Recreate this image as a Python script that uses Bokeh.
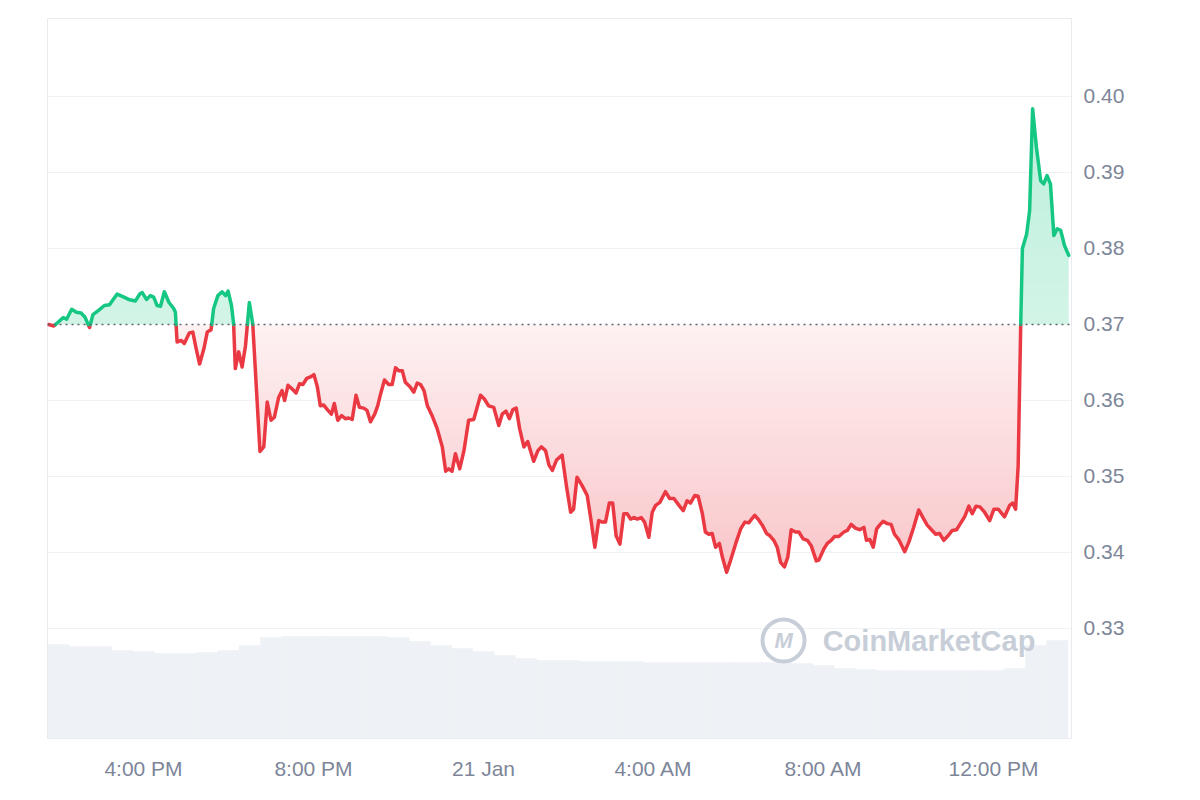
import numpy as np
from bokeh.plotting import figure
from bokeh.models import Range1d, FixedTicker, NumeralTickFormatter, Label, Span
from bokeh.embed import file_html
from bokeh.resources import INLINE

# ---------------- data ----------------
# hours since 20 Jan 00:00
hours = [13.77, 13.89, 13.97, 14.11, 14.19, 14.31, 14.42, 14.53, 14.62, 14.73,
         14.81, 14.95, 15.08, 15.20, 15.38, 15.54, 15.65, 15.81, 15.91, 15.97,
         16.07, 16.16, 16.24, 16.32, 16.40, 16.49, 16.60, 16.71, 16.75, 16.79,
         16.89, 16.96, 17.08, 17.16, 17.24, 17.32, 17.42, 17.50, 17.59, 17.65,
         17.75, 17.85, 17.93, 17.99, 18.07, 18.12, 18.16, 18.24, 18.32, 18.40,
         18.49, 18.57, 18.74, 18.83, 18.91, 19.00, 19.08, 19.18, 19.26, 19.32,
         19.40, 19.50, 19.59, 19.67, 19.75, 19.84, 19.93, 20.01, 20.09, 20.16,
         20.24, 20.34, 20.42, 20.49, 20.57, 20.66, 20.75, 20.83, 20.91, 21.00,
         21.08, 21.18, 21.26, 21.34, 21.44, 21.51, 21.58, 21.67, 21.77, 21.85,
         21.93, 22.01, 22.09, 22.16, 22.27, 22.36, 22.44, 22.52, 22.60, 22.68,
         22.79, 22.91, 23.03, 23.11, 23.18, 23.26, 23.34, 23.44, 23.54, 23.65,
         23.77, 23.93, 24.02, 24.12, 24.24, 24.36, 24.44, 24.53, 24.61, 24.69,
         24.77, 24.85, 24.95, 25.04, 25.18, 25.28, 25.36, 25.46, 25.54, 25.62,
         25.72, 25.85, 25.95, 26.05, 26.12, 26.20, 26.32, 26.44, 26.52, 26.62,
         26.71, 26.79, 26.87, 26.96, 27.04, 27.12, 27.21, 27.30, 27.38, 27.46,
         27.54, 27.62, 27.71, 27.79, 27.89, 27.97, 28.05, 28.15, 28.28, 28.38,
         28.48, 28.60, 28.70, 28.79, 28.87, 28.97, 29.05, 29.15, 29.22, 29.30,
         29.38, 29.46, 29.55, 29.62, 29.72, 29.81, 29.93, 30.05, 30.15, 30.24,
         30.38, 30.46, 30.56, 30.66, 30.74, 30.83, 30.91, 30.99, 31.08, 31.16,
         31.24, 31.34, 31.42, 31.52, 31.62, 31.71, 31.83, 31.89, 32.01, 32.09,
         32.18, 32.26, 32.36, 32.48, 32.56, 32.65, 32.75, 32.85, 32.95, 33.01,
         33.09, 33.17, 33.25, 33.32, 33.40, 33.50, 33.59, 33.67, 33.77, 33.91,
         34.01, 34.12, 34.24, 34.36, 34.44, 34.54, 34.64, 34.73, 34.83, 34.93,
         35.03, 35.13, 35.22, 35.32, 35.42, 35.50, 35.59, 35.68, 35.79, 35.91,
         36.01, 36.11, 36.26, 36.38, 36.45, 36.52, 36.58, 36.64, 36.68, 36.78,
         36.85, 36.92, 37.01, 37.11, 37.18, 37.26, 37.34, 37.42, 37.50, 37.58,
         37.67, 37.77]
price = [0.3700, 0.3698, 0.3702, 0.3709, 0.3707, 0.3720, 0.3716, 0.3715, 0.3710, 0.3696,
         0.3713, 0.3719, 0.3725, 0.3726, 0.3740, 0.3736, 0.3733, 0.3731, 0.3740, 0.3742,
         0.3733, 0.3738, 0.3736, 0.3725, 0.3724, 0.3743, 0.3729, 0.3721, 0.3716, 0.3677,
         0.3679, 0.3675, 0.3689, 0.3690, 0.3668, 0.3648, 0.3668, 0.3690, 0.3693, 0.3721,
         0.3738, 0.3743, 0.3738, 0.3744, 0.3725, 0.3701, 0.3642, 0.3664, 0.3644, 0.3672,
         0.3729, 0.3701, 0.3533, 0.3539, 0.3598, 0.3574, 0.3578, 0.3604, 0.3613, 0.3600,
         0.3620, 0.3615, 0.3610, 0.3622, 0.3621, 0.3629, 0.3631, 0.3634, 0.3618, 0.3593,
         0.3594, 0.3587, 0.3582, 0.3596, 0.3574, 0.3580, 0.3576, 0.3577, 0.3575, 0.3607,
         0.3591, 0.3590, 0.3587, 0.3572, 0.3582, 0.3593, 0.3609, 0.3627, 0.3621, 0.3621,
         0.3643, 0.3639, 0.3639, 0.3624, 0.3618, 0.3611, 0.3623, 0.3621, 0.3613, 0.3593,
         0.3580, 0.3563, 0.3539, 0.3507, 0.3510, 0.3507, 0.3530, 0.3510, 0.3534, 0.3574,
         0.3575, 0.3607, 0.3602, 0.3593, 0.3591, 0.3567, 0.3582, 0.3586, 0.3576, 0.3588,
         0.3590, 0.3563, 0.3539, 0.3546, 0.3520, 0.3534, 0.3539, 0.3534, 0.3515, 0.3508,
         0.3522, 0.3528, 0.3488, 0.3453, 0.3457, 0.3499, 0.3488, 0.3475, 0.3446, 0.3407,
         0.3442, 0.3440, 0.3440, 0.3465, 0.3465, 0.3422, 0.3411, 0.3451, 0.3451, 0.3444,
         0.3446, 0.3444, 0.3446, 0.3440, 0.3420, 0.3453, 0.3462, 0.3466, 0.3480, 0.3471,
         0.3471, 0.3462, 0.3455, 0.3468, 0.3465, 0.3475, 0.3474, 0.3451, 0.3427, 0.3424,
         0.3425, 0.3407, 0.3412, 0.3394, 0.3374, 0.3389, 0.3411, 0.3431, 0.3440, 0.3439,
         0.3449, 0.3444, 0.3436, 0.3425, 0.3422, 0.3416, 0.3407, 0.3387, 0.3381, 0.3394,
         0.3430, 0.3427, 0.3427, 0.3418, 0.3416, 0.3409, 0.3389, 0.3390, 0.3405, 0.3412,
         0.3416, 0.3421, 0.3421, 0.3427, 0.3429, 0.3437, 0.3432, 0.3430, 0.3433, 0.3416,
         0.3417, 0.3407, 0.3431, 0.3436, 0.3441, 0.3438, 0.3437, 0.3424, 0.3417, 0.3401,
         0.3414, 0.3433, 0.3456, 0.3444, 0.3436, 0.3430, 0.3424, 0.3425, 0.3416, 0.3422,
         0.3429, 0.3430, 0.3438, 0.3447, 0.3461, 0.3451, 0.3461, 0.3460, 0.3453, 0.3442,
         0.3457, 0.3457, 0.3447, 0.3462, 0.3465, 0.3457, 0.3514, 0.3700, 0.3800, 0.3819,
         0.3850, 0.3984, 0.3933, 0.3889, 0.3885, 0.3896, 0.3885, 0.3817, 0.3826, 0.3824,
         0.3804, 0.3791]

# volume (arbitrary units, millions), half-hour buckets
vol_hours = [14.0, 14.5, 15.0, 15.5, 16.0, 16.5, 17.0, 17.5, 18.0, 18.5,
             19.0, 19.5, 20.0, 20.5, 21.0, 21.5, 22.0, 22.5, 23.0, 23.5,
             24.0, 24.5, 25.0, 25.5, 26.0, 26.5, 27.0, 27.5, 28.0, 28.5,
             29.0, 29.5, 30.0, 30.5, 31.0, 31.5, 32.0, 32.5, 33.0, 33.5,
             34.0, 34.5, 35.0, 35.5, 36.0, 36.5, 37.0, 37.5]
vol_values = [9.4, 9.2, 9.2, 8.8, 8.7, 8.5, 8.5, 8.6, 8.8, 9.3,
              10.1, 10.2, 10.2, 10.2, 10.2, 10.2, 10.1, 9.7, 9.3, 9.0,
              8.7, 8.3, 8.0, 7.8, 7.8, 7.7, 7.7, 7.7, 7.6, 7.6,
              7.6, 7.6, 7.6, 7.6, 7.6, 7.5, 7.3, 7.0, 6.9, 6.8,
              6.8, 6.8, 6.8, 6.8, 6.8, 7.0, 9.3, 9.8]

y_ticks = [0.33, 0.34, 0.35, 0.36, 0.37, 0.38, 0.39, 0.40]
x_tick_hours = [16, 20, 24, 28, 32, 36]
x_tick_labels = ["4:00 PM", "8:00 PM", "21 Jan", "4:00 AM", "8:00 AM", "12:00 PM"]

# ---------------- styling ----------------
GREEN = "#16c784"
RED = "#ea3943"
FONT = "Liberation Sans"
LABEL_COLOR = "#7d8699"
GRID_COLOR = "#eff2f5"
MARK_COLOR = "#c7ced8"

base = price[0]


def insert_crossings(xs, ys, levels):
    """Add the exact points where each segment crosses the given levels."""
    ox, oy = [xs[0]], [ys[0]]
    for i in range(1, len(xs)):
        x0, y0, x1, y1 = xs[i - 1], ys[i - 1], xs[i], ys[i]
        if y1 != y0:
            lo_, hi_ = min(y0, y1), max(y0, y1)
            cross = [L for L in levels if lo_ < L < hi_]
            cross.sort(key=lambda L: (L - y0) / (y1 - y0))
            for L in cross:
                f = (L - y0) / (y1 - y0)
                ox.append(x0 + f * (x1 - x0)); oy.append(L)
        ox.append(x1); oy.append(y1)
    return np.array(ox), np.array(oy)


t, q = insert_crossings(hours, price, [base])

p = figure(width=1184, height=784, output_backend="svg", toolbar_location=None,
           x_range=Range1d(13.741, 37.835), y_range=Range1d(0.315526, 0.410263),
           y_axis_location="right", min_border_left=47, min_border_top=18,
           min_border_right=113, min_border_bottom=46,
           background_fill_color="white", border_fill_color="white")
p.outline_line_color = "#e9ebee"
p.outline_line_width = 1

p.extra_y_ranges = {"vol": Range1d(0, 72)}
p.vbar(x=vol_hours, width=0.5, top=vol_values, bottom=0, y_range_name="vol",
       fill_color="#eef1f5", line_color="#eef1f5", line_width=0.5)


def mix(hex_color, a):
    r = int(hex_color[1:3], 16); g = int(hex_color[3:5], 16); b = int(hex_color[5:7], 16)
    rr = round(255 + (r - 255) * a); gg = round(255 + (g - 255) * a); bb = round(255 + (b - 255) * a)
    return "#%02x%02x%02x" % (rr, gg, bb)


nb = 36
# red gradient fill below baseline
edges = np.linspace(base, q.min(), nb + 1)
eps = (base - q.min()) / nb * 0.12
lv = list(edges) + [e - eps for e in edges]
tr, qr = insert_crossings(list(t), list(q), lv)
for k in range(nb):
    hi, lo = edges[k], edges[k + 1]
    y1 = np.clip(qr, lo - eps, hi)
    frac = (k + 0.5) / nb
    p.varea(x=tr, y1=y1, y2=hi, fill_color=mix(RED, 0.07 + 0.22 * frac))

# green gradient fill above baseline
edges_g = np.linspace(base, q.max(), nb + 1)
eps_g = (q.max() - base) / nb * 0.12
lvg = list(edges_g) + [e + eps_g for e in edges_g]
tg, qg = insert_crossings(list(t), list(q), lvg)
for k in range(nb):
    lo, hi = edges_g[k], edges_g[k + 1]
    y2 = np.clip(qg, lo, hi + eps_g)
    frac = (k + 0.5) / nb
    p.varea(x=tg, y1=lo, y2=y2, fill_color=mix(GREEN, 0.19 + 0.10 * frac))

# grid
p.xgrid.visible = False
p.ygrid.ticker = FixedTicker(ticks=[v for v in y_ticks if abs(v - base) > 1e-9])
p.ygrid.grid_line_color = GRID_COLOR
p.ygrid.grid_line_width = 1

# baseline dotted
p.add_layout(Span(location=base, dimension="width", line_color="#5f6570",
                  line_width=1.5, line_dash="2 4"))

# coloured line segments
runs = {"g": ([], []), "r": ([], [])}
cur_c, cx, cy = None, [], []
for i in range(len(t) - 1):
    c = "g" if (q[i] + q[i + 1]) / 2 >= base else "r"
    if c != cur_c:
        if cx:
            runs[cur_c][0].append(cx); runs[cur_c][1].append(cy)
        cx, cy, cur_c = [t[i]], [q[i]], c
    cx.append(t[i + 1]); cy.append(q[i + 1])
if cx:
    runs[cur_c][0].append(cx); runs[cur_c][1].append(cy)
for key, col in (("r", RED), ("g", GREEN)):
    if runs[key][0]:
        p.multi_line(xs=runs[key][0], ys=runs[key][1], line_color=col, line_width=3.5,
                     line_join="round", line_cap="round")

# watermark
p.scatter(x=[31.06], y=[0.32842], marker="circle", size=42, fill_alpha=0,
          line_color=MARK_COLOR, line_width=4)
p.add_layout(Label(x=31.06, y=0.32842, text="M", text_align="center", text_baseline="middle",
                   text_font=FONT, text_font_size="22px", text_font_style="bold italic",
                   text_color=MARK_COLOR))
p.add_layout(Label(x=31.98, y=0.32842, text="CoinMarketCap", text_baseline="middle",
                   text_font=FONT, text_font_size="29px", text_font_style="bold",
                   text_color=MARK_COLOR))

# axes
for ax in (p.xaxis[0], p.yaxis[0]):
    ax.axis_line_color = None
    ax.major_tick_line_color = None
    ax.minor_tick_line_color = None
    ax.major_tick_in = 0
    ax.major_tick_out = 0
    ax.major_label_text_font = FONT
    ax.major_label_text_font_size = "21px"
    ax.major_label_text_color = LABEL_COLOR

p.yaxis.ticker = FixedTicker(ticks=y_ticks)
p.yaxis.formatter = NumeralTickFormatter(format="0.00")
p.yaxis.major_label_standoff = 12

p.xaxis.ticker = FixedTicker(ticks=x_tick_hours)
p.xaxis.major_label_overrides = {h: lab for h, lab in zip(x_tick_hours, x_tick_labels)}
p.xaxis.major_label_standoff = 18

open("out.html", "w").write(file_html(p, INLINE))
